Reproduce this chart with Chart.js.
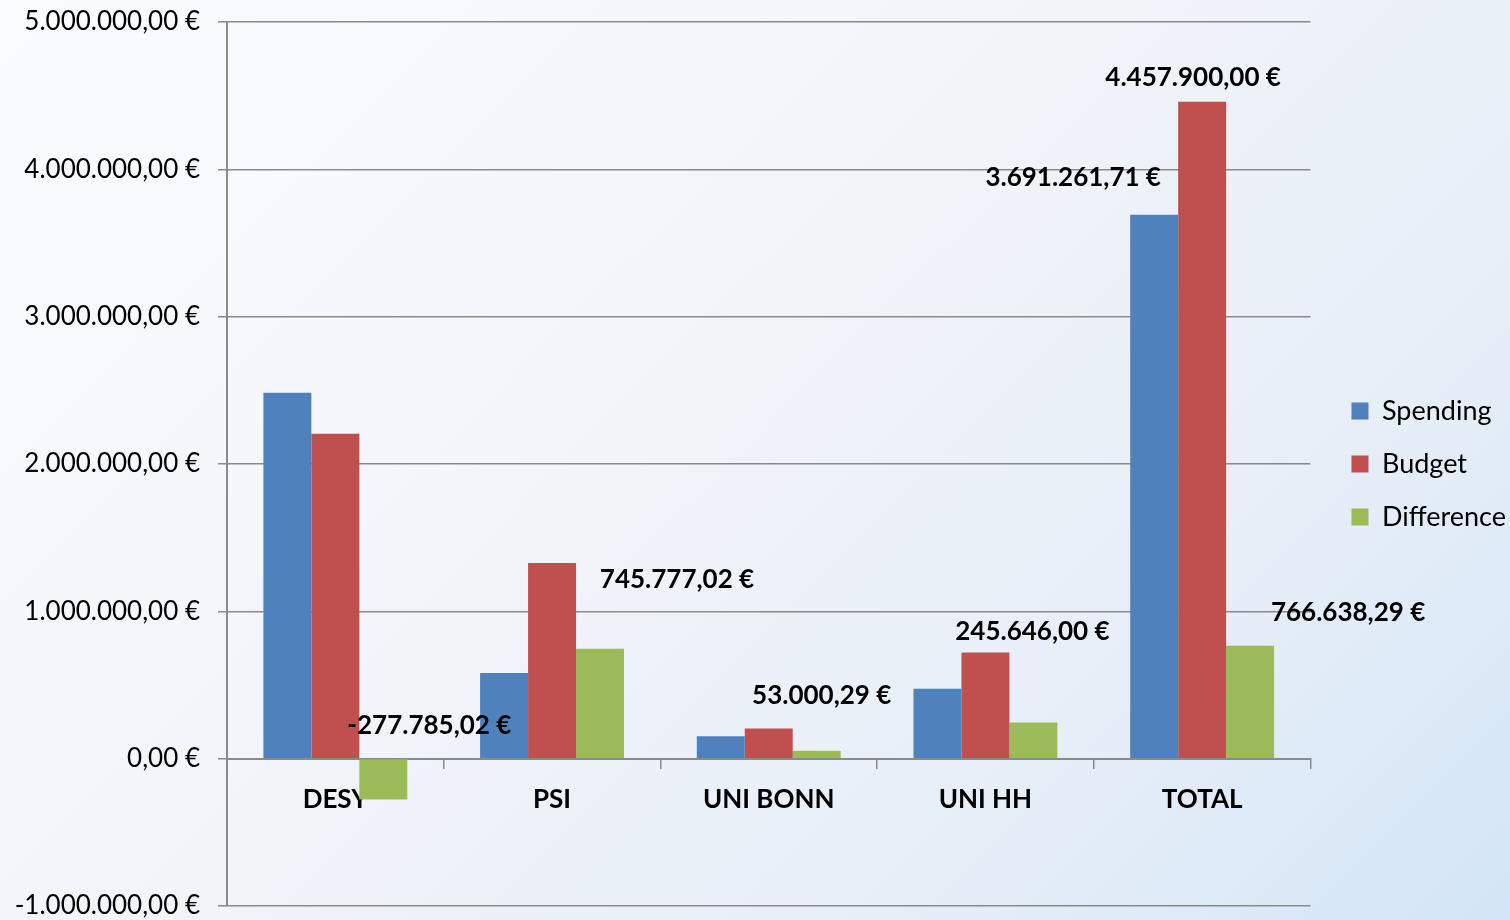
<!DOCTYPE html>
<html>
<head>
<meta charset="utf-8">
<script src="https://cdn.jsdelivr.net/npm/chart.js@4"></script>
<style>
    html, body { margin: 0; padding: 0; }
    body {
        width: 1510px; height: 920px; overflow: hidden;
        background: linear-gradient(135deg, #fbfcfe 0%, #f1f4f9 45%, #e6eef8 75%, #d3e5f6 100%);
    }
    #wrap { width: 1510px; height: 920px; }
</style>
</head>
<body>
<div id="wrap"><canvas id="budgetChart"></canvas></div>
<script>
const categories = ['DESY', 'PSI', 'UNI BONN', 'UNI HH', 'TOTAL'];
const spending = [2482785.02, 582122.98, 151999.71, 474354.00, 3691261.71];
const budget = [2205000.00, 1327900.00, 205000.00, 720000.00, 4457900.00];
const difference = [-277785.02, 745777.02, 53000.29, 245646.00, 766638.29];
const yTicks = [-1000000, 0, 1000000, 2000000, 3000000, 4000000, 5000000];

const FONT = 'Lato, "Open Sans", sans-serif';

function euro(v) {
    return v.toLocaleString('de-DE', { minimumFractionDigits: 2, maximumFractionDigits: 2 }) + ' €';
}

// which values get a label, and where it sits relative to the bar end
const labelOffsets = {
    0: { 4: [-81, -37] },
    1: { 4: [-9, -24] },
    2: { 0: [46, -74], 1: [77, -69], 2: [5, -55], 3: [-1, -91], 4: [98, -33] }
};

const valueLabels = {
    id: 'valueLabels',
    afterDatasetsDraw(chart) {
        const ctx = chart.ctx;
        ctx.save();
        ctx.font = 'bold 26px ' + FONT;
        ctx.fillStyle = '#000';
        ctx.textAlign = 'center';
        ctx.textBaseline = 'middle';
        Object.keys(labelOffsets).forEach(function (di) {
            const meta = chart.getDatasetMeta(di);
            const offs = labelOffsets[di];
            Object.keys(offs).forEach(function (i) {
                const bar = meta.data[i];
                const v = chart.data.datasets[di].data[i];
                ctx.fillText(euro(v), bar.x + offs[i][0], bar.y + offs[i][1]);
            });
        });
        ctx.restore();
    }
};

// widen the legend box so the plot ends where the original does,
// then slide the legend items back to the right
const LEGEND_EXTRA = 9;
const LEGEND_SHIFT = 15;
const legendSpace = {
    id: 'legendSpace',
    beforeLayout(chart) {
        const lg = chart.legend;
        if (lg && !lg._patched) {
            const fit = lg.fit;
            lg.fit = function () { fit.call(this); this.width += LEGEND_EXTRA; };
            lg._patched = true;
        }
    },
    afterLayout(chart) {
        const lg = chart.legend;
        if (lg) { lg.left += LEGEND_SHIFT; lg.right += LEGEND_SHIFT; }
    }
};

const ctx = document.getElementById('budgetChart').getContext('2d');
new Chart(ctx, {
    type: 'bar',
    data: {
        labels: categories,
        datasets: [
            { label: 'Spending', data: spending, backgroundColor: '#4f81bd' },
            { label: 'Budget', data: budget, backgroundColor: '#c0504d' },
            { label: 'Difference', data: difference, backgroundColor: '#9bbb59' }
        ]
    },
    options: {
        responsive: true,
        maintainAspectRatio: false,
        animation: false,
        layout: { padding: { top: 22, bottom: 14, right: 0 } },
        datasets: {
            bar: { barPercentage: 1, categoryPercentage: 0.664 }
        },
        scales: {
            x: {
                position: { y: 0 },
                afterFit: function (scale) {
                    scale.paddingTop = 0; scale.paddingBottom = 0;
                    scale.paddingLeft = 0; scale.paddingRight = 0;
                },
                grid: {
                    offset: true,
                    drawOnChartArea: false,
                    tickLength: 9,
                    color: '#8a8a8a',
                    lineWidth: 1.5
                },
                border: { color: '#8a8a8a', width: 2 },
                ticks: {
                    color: '#000',
                    padding: 16,
                    font: { family: FONT, size: 26, weight: 'bold' }
                }
            },
            y: {
                min: -1000000,
                max: 5000000,
                afterBuildTicks: function (scale) {
                    scale.ticks = yTicks.map(function (v) { return { value: v }; });
                },
                afterFit: function (scale) {
                    scale.width = 227;
                    scale.paddingTop = 0; scale.paddingBottom = 0;
                },
                grid: { color: '#8a8a8a', lineWidth: 1.5, tickLength: 9 },
                border: { color: '#8a8a8a', width: 2 },
                ticks: {
                    color: '#000',
                    padding: 18,
                    font: { family: FONT, size: 26 },
                    callback: function (v) { return euro(v); }
                }
            }
        },
        plugins: {
            tooltip: { enabled: false },
            legend: {
                position: 'right',
                labels: {
                    color: '#000',
                    boxWidth: 17,
                    boxHeight: 17,
                    padding: 26,
                    font: { family: FONT, size: 27 }
                }
            }
        }
    },
    plugins: [valueLabels, legendSpace]
});
</script>
</body>
</html>
